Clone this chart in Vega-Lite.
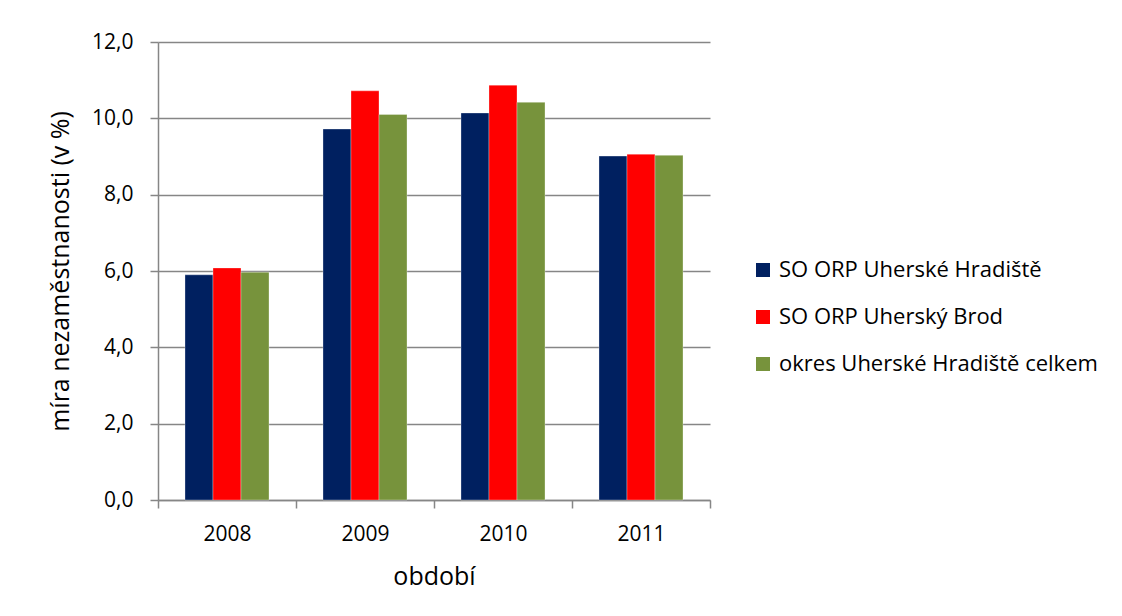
{
  "$schema": "https://vega.github.io/schema/vega-lite/v6.json",
  "autosize": {"type": "none"},
  "width": 552,
  "height": 458,
  "padding": {"left": 158, "top": 42, "right": 412, "bottom": 116},
  "background": "#ffffff",
  "config": {
    "font": "Open Sans",
    "view": {"stroke": null},
    "axis": {"labelFont": "Open Sans", "titleFont": "Open Sans", "labelColor": "#000000", "titleColor": "#000000", "titleFontWeight": "normal"}
  },
  "data": {
    "values": [
      {"rok": "2008", "serie": "SO ORP Uherské Hradiště", "hodnota": 5.9},
      {"rok": "2008", "serie": "SO ORP Uherský Brod", "hodnota": 6.08},
      {"rok": "2008", "serie": "okres Uherské Hradiště celkem", "hodnota": 5.97},
      {"rok": "2009", "serie": "SO ORP Uherské Hradiště", "hodnota": 9.72},
      {"rok": "2009", "serie": "SO ORP Uherský Brod", "hodnota": 10.72},
      {"rok": "2009", "serie": "okres Uherské Hradiště celkem", "hodnota": 10.1},
      {"rok": "2010", "serie": "SO ORP Uherské Hradiště", "hodnota": 10.14},
      {"rok": "2010", "serie": "SO ORP Uherský Brod", "hodnota": 10.87},
      {"rok": "2010", "serie": "okres Uherské Hradiště celkem", "hodnota": 10.42},
      {"rok": "2011", "serie": "SO ORP Uherské Hradiště", "hodnota": 9.01},
      {"rok": "2011", "serie": "SO ORP Uherský Brod", "hodnota": 9.06},
      {"rok": "2011", "serie": "okres Uherské Hradiště celkem", "hodnota": 9.03}
    ]
  },
  "mark": {"type": "bar", "stroke": "#ffffff", "strokeWidth": 0.5, "strokeOpacity": 0.6},
  "encoding": {
    "x": {
      "field": "rok", "type": "nominal", "title": "období",
      "scale": {"paddingInner": 0, "paddingOuter": 0},
      "axis": {
        "labelAngle": 0, "labelFontSize": 21, "titleFontSize": 25, "labelPadding": 15, "titlePadding": 20,
        "tickBand": "extent", "tickSize": 8, "tickColor": "#868686", "domainColor": "#868686", "domainWidth": 1.5, "tickWidth": 1.5, "grid": false
      }
    },
    "xOffset": {"field": "serie", "type": "nominal", "sort": ["SO ORP Uherské Hradiště", "SO ORP Uherský Brod", "okres Uherské Hradiště celkem"], "scale": {"paddingInner": 0, "paddingOuter": 0.964}},
    "y": {
      "field": "hodnota", "type": "quantitative", "title": "míra nezaměstnanosti (v %)",
      "scale": {"domain": [0, 12], "nice": false},
      "axis": {
        "values": [0, 2, 4, 6, 8, 10, 12],
        "labelExpr": "replace(format(datum.value, '.1f'), '.', ',')",
        "labelFontSize": 21, "titleFontSize": 25, "labelPadding": 17, "titlePadding": 18,
        "tickSize": 8, "tickColor": "#868686", "domainColor": "#868686", "domainWidth": 1.5, "tickWidth": 1.5,
        "gridColor": "#868686", "gridWidth": 1.5
      }
    },
    "color": {
      "field": "serie", "type": "nominal",
      "sort": ["SO ORP Uherské Hradiště", "SO ORP Uherský Brod", "okres Uherské Hradiště celkem"],
      "scale": {"domain": ["SO ORP Uherské Hradiště", "SO ORP Uherský Brod", "okres Uherské Hradiště celkem"], "range": ["#002060", "#FF0000", "#77933C"]},
      "legend": {
        "title": null, "orient": "none", "legendX": 594, "legendY": 217,
        "symbolType": "square", "symbolSize": 196, "symbolStrokeWidth": 0,
        "labelFontSize": 22, "labelFont": "Open Sans", "labelColor": "#000000", "labelOffset": 5, "rowPadding": 25, "labelLimit": 400
      }
    }
  }
}
